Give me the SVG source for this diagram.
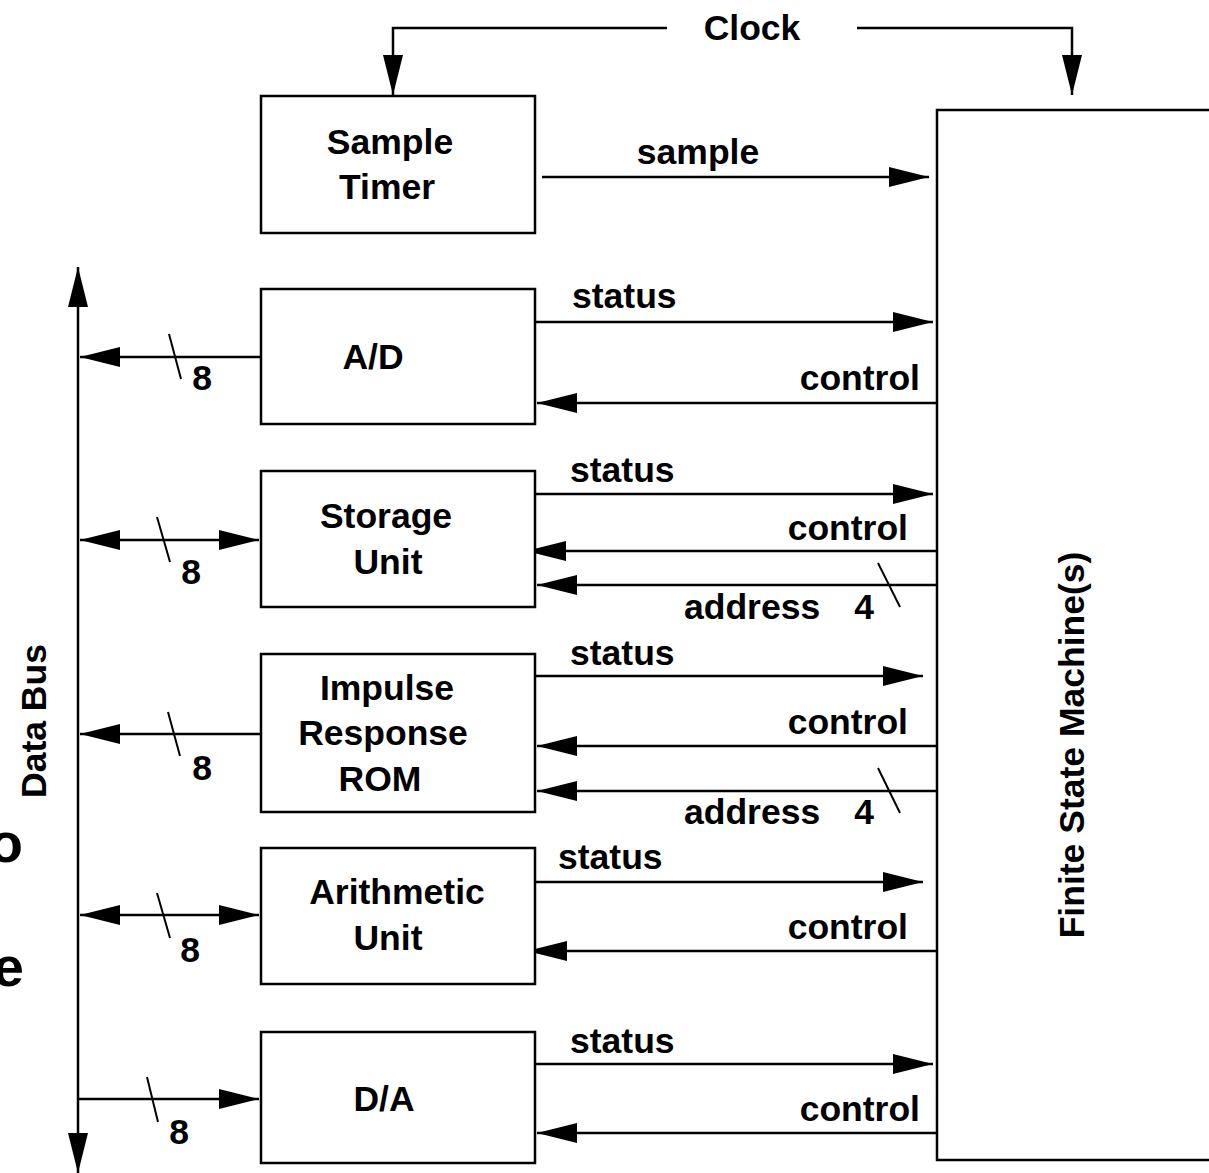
<svg xmlns="http://www.w3.org/2000/svg" width="1209" height="1173" viewBox="0 0 1209 1173">
  <defs>
    <style>
      text { font-family: "Liberation Sans", Arial, Helvetica, sans-serif; font-weight: bold; font-size: 35.5px; fill: #000; }
      .box { fill: #fff; stroke: #000; stroke-width: 2.5; }
      .wire { fill: none; stroke: #000; stroke-width: 2.5; }
      .arr { marker-end: url(#head); }
      .both { marker-start: url(#head); marker-end: url(#head); }
      .slash { stroke: #000; stroke-width: 2; }
      .mid { text-anchor: middle; }
      .end { text-anchor: end; }
      .big { font-size: 56px; }
    </style>
    <marker id="head" markerUnits="userSpaceOnUse" markerWidth="40" markerHeight="20" refX="40" refY="10" orient="auto-start-reverse" viewBox="0 0 40 20">
      <path d="M0,0 L40,10 L0,20 Z" fill="#000"/>
    </marker>
  </defs>
  <rect width="1209" height="1173" fill="#fff"/>

  <!-- partially visible text at the left margin -->
  <text class="big end" x="23" y="862">o</text>
  <text class="big end" x="24" y="986">e</text>

  <!-- connectors -->
  <g id="connectors">
    <!-- clock distribution -->
    <path class="wire arr" d="M667,28 H393 V95"/>
    <path class="wire arr" d="M857,28 H1072 V95"/>
    <text class="mid" x="752" y="40">Clock</text>

    <!-- data bus -->
    <path class="wire both" d="M78,1173 V267"/>
    <text class="mid" transform="translate(46,721) rotate(-90)">Data Bus</text>

    <!-- sample timer -->
    <path class="wire arr" d="M542,177 H929"/>
    <text class="mid" x="698" y="164">sample</text>

    <!-- A/D -->
    <path class="wire arr" d="M535,322 H933"/>
    <text x="572" y="308">status</text>
    <path class="wire arr" d="M937,403 H537"/>
    <text class="end" x="920" y="390">control</text>
    <path class="wire arr" d="M261,357 H80"/>
    <line class="slash" x1="169" y1="334" x2="181" y2="379"/>
    <text class="mid" x="202" y="390">8</text>

    <!-- storage unit -->
    <path class="wire arr" d="M535,494 H933"/>
    <text x="570" y="482">status</text>
    <path class="wire arr" d="M937,551 H526"/>
    <text class="end" x="908" y="540">control</text>
    <path class="wire arr" d="M937,585 H537"/>
    <line class="slash" x1="878" y1="563" x2="900" y2="607"/>
    <text x="684" y="619">address</text>
    <text class="mid" x="864" y="619">4</text>
    <path class="wire both" d="M80,540 H259"/>
    <line class="slash" x1="157" y1="517" x2="170" y2="562"/>
    <text class="mid" x="191" y="584">8</text>

    <!-- impulse response ROM -->
    <path class="wire arr" d="M535,676 H923"/>
    <text x="570" y="665">status</text>
    <path class="wire arr" d="M937,746 H537"/>
    <text class="end" x="908" y="734">control</text>
    <path class="wire arr" d="M937,791 H537"/>
    <line class="slash" x1="878" y1="768" x2="900" y2="813"/>
    <text x="684" y="824">address</text>
    <text class="mid" x="864" y="824">4</text>
    <path class="wire arr" d="M261,734 H80"/>
    <line class="slash" x1="168" y1="712" x2="180" y2="756"/>
    <text class="mid" x="202" y="780">8</text>

    <!-- arithmetic unit -->
    <path class="wire arr" d="M535,882 H923"/>
    <text x="558" y="869">status</text>
    <path class="wire arr" d="M937,951 H527"/>
    <text class="end" x="908" y="939">control</text>
    <path class="wire both" d="M80,915 H259"/>
    <line class="slash" x1="157" y1="893" x2="170" y2="938"/>
    <text class="mid" x="190" y="962">8</text>

    <!-- D/A -->
    <path class="wire arr" d="M535,1064 H933"/>
    <text x="570" y="1053">status</text>
    <path class="wire arr" d="M937,1133 H537"/>
    <text class="end" x="920" y="1121">control</text>
    <path class="wire arr" d="M78,1099 H259"/>
    <line class="slash" x1="147" y1="1077" x2="158" y2="1122"/>
    <text class="mid" x="179" y="1144">8</text>
  </g>

  <!-- nodes -->
  <g id="sample-timer">
    <rect class="box" x="261" y="96" width="274" height="137"/>
    <text class="mid" x="390" y="154">Sample</text>
    <text class="mid" x="387" y="199">Timer</text>
  </g>
  <g id="ad">
    <rect class="box" x="261" y="289" width="274" height="135"/>
    <text class="mid" x="373" y="369">A/D</text>
  </g>
  <g id="storage-unit">
    <rect class="box" x="261" y="471" width="274" height="136"/>
    <text class="mid" x="386" y="528">Storage</text>
    <text class="mid" x="388" y="574">Unit</text>
  </g>
  <g id="impulse-rom">
    <rect class="box" x="261" y="654" width="274" height="158"/>
    <text class="mid" x="387" y="700">Impulse</text>
    <text class="mid" x="383" y="745">Response</text>
    <text class="mid" x="380" y="791">ROM</text>
  </g>
  <g id="arithmetic-unit">
    <rect class="box" x="261" y="848" width="274" height="136"/>
    <text class="mid" x="397" y="904">Arithmetic</text>
    <text class="mid" x="388" y="950">Unit</text>
  </g>
  <g id="da">
    <rect class="box" x="261" y="1032" width="274" height="131"/>
    <text class="mid" x="384" y="1111">D/A</text>
  </g>
  <g id="fsm">
    <rect class="box" x="937" y="110" width="300" height="1050"/>
    <text class="mid" transform="translate(1084,745) rotate(-90)">Finite State Machine(s)</text>
  </g>
</svg>
